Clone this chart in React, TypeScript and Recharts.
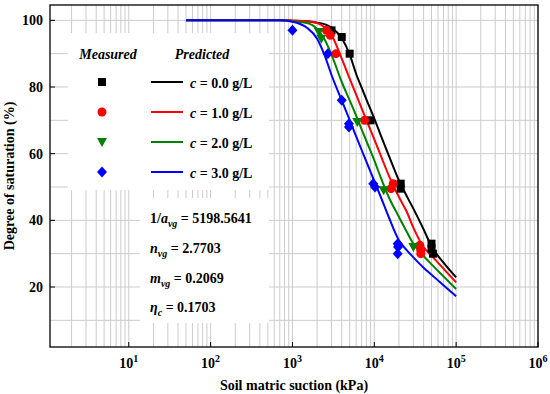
import { ComposedChart, Line, Scatter, XAxis, YAxis, CartesianGrid, Customized } from "recharts"

const suction = [50, 100, 200, 500, 700, 1000, 1500, 2000, 2500, 3000, 4000, 5000, 6000, 7000, 8000, 10000, 12000, 15000, 20000, 25000, 30000, 40000, 50000, 70000, 100000]

// predicted degree of saturation (%)
const predC0 = [100, 100, 100, 100, 100, 99.9, 99.7, 99.3, 98.8, 97.8, 94.6, 89.8, 83.9, 79.8, 76.3, 70.5, 65.5, 59.5, 52, 47.2, 43.5, 37.3, 32.2, 27.3, 22.9]
const predC1 = [100, 100, 100, 100, 100, 99.9, 99.7, 99.2, 97.8, 95.6, 88.5, 82.5, 77.7, 73.6, 70.1, 64.3, 59.4, 53.5, 47, 42.5, 37.8, 32, 29.4, 25.5, 21.4]
const predC2 = [100, 100, 100, 100, 100, 99.7, 99.2, 97.4, 94, 89.7, 81.5, 76, 71.4, 67.3, 63.8, 58, 52.8, 47, 41, 36.5, 33, 29.3, 26.8, 23.2, 19.4]
const predC3 = [100, 100, 100, 100, 100, 99.6, 97.8, 94.5, 89.2, 83.6, 76, 70.1, 65.2, 61.1, 57.6, 51.8, 47, 41, 34, 31, 28.9, 25.8, 23.7, 20.5, 17.2]

// measured points
const measC0 = [
  { x: 3000, y: 97 }, { x: 4000, y: 95 }, { x: 5000, y: 90 }, { x: 9000, y: 70 },
  { x: 21000, y: 51 }, { x: 21000, y: 49.5 }, { x: 50000, y: 33 }, { x: 50000, y: 31.5 }, { x: 52000, y: 30 },
]
const measC1 = [
  { x: 2600, y: 97 }, { x: 2900, y: 95.5 }, { x: 3400, y: 90 }, { x: 7600, y: 70 },
  { x: 17000, y: 51 }, { x: 16000, y: 49.5 }, { x: 36000, y: 32.5 }, { x: 37000, y: 31 }, { x: 37000, y: 30 },
]
const measC2 = [
  { x: 2100, y: 96.5 }, { x: 2250, y: 94.5 }, { x: 6200, y: 69.5 }, { x: 13000, y: 49 }, { x: 30000, y: 32 },
]
const measC3 = [
  { x: 1000, y: 97 }, { x: 2700, y: 90 }, { x: 4000, y: 76 }, { x: 4900, y: 69 }, { x: 4900, y: 68 },
  { x: 9700, y: 51 }, { x: 10200, y: 50 }, { x: 19300, y: 33 }, { x: 19500, y: 32 }, { x: 19300, y: 30 },
]

const xTicks = [10, 100, 1000, 10000, 100000, 1000000]
const yTicks = [20, 40, 60, 80, 100]
const yGrid = [10, 20, 30, 40, 50, 60, 70, 80, 90, 100]
const xGrid: number[] = []
for (let k = 0; k < 6; k++) {
  for (let m = 1; m <= 9; m++) {
    const v = m * Math.pow(10, k)
    if (v > 1) xGrid.push(v)
  }
}
xGrid.push(1000000)

const FONT = "'Liberation Serif', 'Times New Roman', serif"

const toRows = (ys: number[]) => suction.map((x, i) => ({ x, y: ys[i] }))

const Square = ({ cx, cy }: any) => <rect x={cx - 4} y={cy - 4} width={8} height={8} fill="#000" />
const Dot = ({ cx, cy }: any) => <circle cx={cx} cy={cy} r={4.5} fill="#ff0000" />
const TriDown = ({ cx, cy }: any) => (
  <polygon points={`${cx - 5},${cy - 4} ${cx + 5},${cy - 4} ${cx},${cy + 5}`} fill="#008000" />
)
const Diamond = ({ cx, cy }: any) => (
  <polygon points={`${cx},${cy - 5.5} ${cx + 5},${cy} ${cx},${cy + 5.5} ${cx - 5},${cy}`} fill="#0000ff" />
)

const XTick = ({ x, y, payload }: any) => {
  const exp = Math.round(Math.log10(payload.value))
  return (
    <g>
      <line x1={x} x2={x} y1={y} y2={y - 5} stroke="#000" />
      <text x={x} y={y + 21} textAnchor="middle" fontFamily={FONT} fontWeight="bold" fontSize={14} fill="#000">
        <tspan>10</tspan>
        <tspan dy={-6} fontSize={10}>{exp}</tspan>
      </text>
    </g>
  )
}

const YTick = ({ x, y, payload }: any) => (
  <g>
    <line x1={x} x2={x + 5} y1={y} y2={y} stroke="#000" />
    <text x={x - 7} y={y + 5} textAnchor="end" fontFamily={FONT} fontWeight="bold" fontSize={14} fill="#000">
      {payload.value}
    </text>
  </g>
)

const legendRows = [
  { label: "0.0", color: "#000", Mark: Square, fill: "#000" },
  { label: "1.0", color: "#ff0000", Mark: Dot, fill: "#ff0000" },
  { label: "2.0", color: "#008000", Mark: TriDown, fill: "#008000" },
  { label: "3.0", color: "#0000ff", Mark: Diamond, fill: "#0000ff" },
]

const Decor = () => {
  const t = { fontFamily: FONT, fontWeight: "bold" as const, fontSize: 14, fill: "#000" }
  return (
    <g>
      <rect x={68} y={33} width={201} height={157} fill="#fff" />
      <rect x={140} y={198} width={129} height={125} fill="#fff" />
      <text x={108} y={59} textAnchor="middle" {...t} fontStyle="italic">Measured</text>
      <text x={202} y={59} textAnchor="middle" {...t} fontStyle="italic">Predicted</text>
      {legendRows.map((r, i) => {
        const cy = 82 + i * 30
        const M = r.Mark
        return (
          <g key={r.label}>
            <M cx={102} cy={cy} />
            <line x1={151} x2={183} y1={cy} y2={cy} stroke={r.color} strokeWidth={2} />
            <text x={190} y={cy + 6} {...t}>
              <tspan fontStyle="italic">c</tspan>
              <tspan> = {r.label} g/L</tspan>
            </text>
          </g>
        )
      })}
      <text x={150} y={223} {...t}>
        <tspan>1/</tspan><tspan fontStyle="italic">a</tspan>
        <tspan dy={4} fontSize={10} fontStyle="italic">vg</tspan>
        <tspan dy={-4}> = 5198.5641</tspan>
      </text>
      <text x={150} y={253} {...t}>
        <tspan fontStyle="italic">n</tspan>
        <tspan dy={4} fontSize={10} fontStyle="italic">vg</tspan>
        <tspan dy={-4}> = 2.7703</tspan>
      </text>
      <text x={150} y={283} {...t}>
        <tspan fontStyle="italic">m</tspan>
        <tspan dy={4} fontSize={10} fontStyle="italic">vg</tspan>
        <tspan dy={-4}> = 0.2069</tspan>
      </text>
      <text x={150} y={312} {...t}>
        <tspan fontStyle="italic">η</tspan>
        <tspan dy={4} fontSize={10} fontStyle="italic">c</tspan>
        <tspan dy={-4}> = 0.1703</tspan>
      </text>
      <rect x={50} y={5} width={488} height={342} fill="none" stroke="#000" strokeWidth={1.3} />
      <text x={294} y={390} textAnchor="middle" {...t} fontSize={14}>Soil matric suction (kPa)</text>
      <text x={14} y={176} textAnchor="middle" {...t} fontSize={14} transform="rotate(-90 14 176)">
        Degree of saturation (%)
      </text>
    </g>
  )
}

export default function App() {
  return (
    <div style={{ position: "absolute", left: 0, top: 0, background: "#fff" }}>
      <ComposedChart width={550} height={394} margin={{ top: 5, right: 12, bottom: 0, left: 0 }}>
        <CartesianGrid stroke="#cccccc" verticalValues={xGrid} horizontalValues={yGrid} />
        <XAxis
          dataKey="x"
          type="number"
          scale="log"
          domain={[1.09, 1000000]}
          ticks={xTicks}
          allowDataOverflow
          axisLine={false}
          tickLine={false}
          tickSize={0}
          tickMargin={0}
          height={47}
          tick={<XTick />}
          interval={0}
        />
        <YAxis
          type="number"
          domain={[2, 104.6]}
          ticks={yTicks}
          allowDataOverflow
          axisLine={false}
          tickLine={false}
          tickSize={0}
          tickMargin={0}
          width={50}
          tick={<YTick />}
          interval={0}
        />
        <Customized component={<Decor />} />
        <Line data={toRows(predC0)} dataKey="y" type="monotone" stroke="#000" strokeWidth={2} dot={false} isAnimationActive={false} />
        <Line data={toRows(predC1)} dataKey="y" type="monotone" stroke="#ff0000" strokeWidth={2} dot={false} isAnimationActive={false} />
        <Line data={toRows(predC2)} dataKey="y" type="monotone" stroke="#008000" strokeWidth={2} dot={false} isAnimationActive={false} />
        <Line data={toRows(predC3)} dataKey="y" type="monotone" stroke="#0000ff" strokeWidth={2} dot={false} isAnimationActive={false} />
        <Scatter data={measC0} dataKey="y" shape={<Square />} isAnimationActive={false} />
        <Scatter data={measC1} dataKey="y" shape={<Dot />} isAnimationActive={false} />
        <Scatter data={measC2} dataKey="y" shape={<TriDown />} isAnimationActive={false} />
        <Scatter data={measC3} dataKey="y" shape={<Diamond />} isAnimationActive={false} />
      </ComposedChart>
    </div>
  )
}
